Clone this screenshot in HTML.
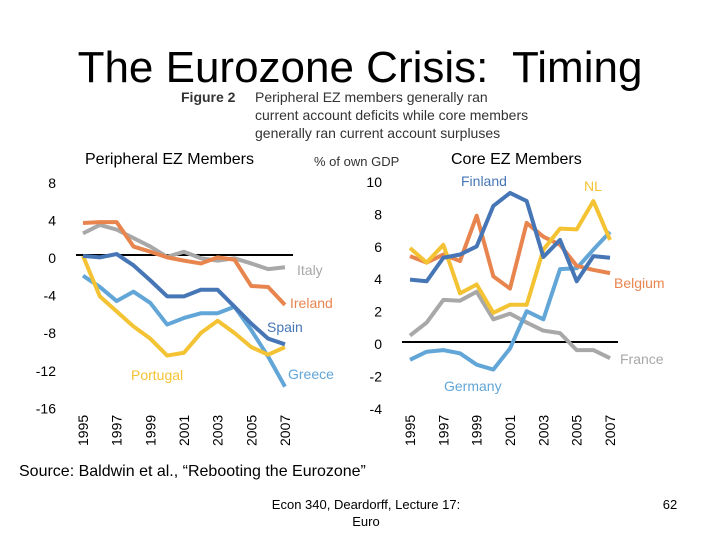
<!DOCTYPE html>
<html><head><meta charset="utf-8"><style>
body{margin:0;width:720px;height:540px;background:#fff;overflow:hidden;font-family:"Liberation Sans",sans-serif;}
svg{position:absolute;left:0;top:0}
</style></head><body>
<svg width="720" height="540" id="s" font-family="Liberation Sans, sans-serif">
<text x="360" y="82" font-size="44" text-anchor="middle" fill="#000" style="white-space:pre">The Eurozone Crisis:  Timing</text>
<g font-size="14" fill="#333">
<text x="181" y="102" font-weight="bold">Figure 2</text>
<text x="255" y="102">Peripheral EZ members generally ran</text>
<text x="255" y="120">current account deficits while core members</text>
<text x="255" y="138">generally ran current account surpluses</text>
</g>
<text x="85" y="164" font-size="16">Peripheral EZ Members</text>
<text x="314" y="166" font-size="13" fill="#333">% of own GDP</text>
<text x="451" y="164" font-size="16">Core EZ Members</text>
<g id="left"></g>
<g id="right"></g>
<text x="19" y="476" font-size="16">Source:  Baldwin et al., “Rebooting the Eurozone”</text>
<text x="366" y="509" font-size="13" text-anchor="middle">Econ 340, Deardorff, Lecture 17:</text>
<text x="366" y="526" font-size="13" text-anchor="middle">Euro</text>
<text x="670" y="509" font-size="13" text-anchor="middle">62</text>
</svg>
<script>
const years=[1995,1996,1997,1998,1999,2000,2001,2002,2003,2004,2005,2006,2007];
const yearTicks=[1995,1997,1999,2001,2003,2005,2007];
const leftTicks=[8,4,0,-4,-8,-12,-16];
const rightTicks=[10,8,6,4,2,0,-2,-4];
const ireland=[3.4,3.5,3.5,0.9,0.35,-0.25,-0.6,-0.9,-0.25,-0.5,-3.3,-3.4,-5.3];
const italy=[2.3,3.2,2.7,1.8,0.9,-0.2,0.35,-0.35,-0.6,-0.35,-0.9,-1.5,-1.3];
const spain=[-0.1,-0.25,0.1,-1.1,-2.7,-4.4,-4.4,-3.7,-3.7,-5.5,-7.3,-8.9,-9.5];
const greece=[-2.2,-3.4,-4.9,-3.9,-5.1,-7.4,-6.7,-6.2,-6.2,-5.5,-8,-10.8,-14];
const portugal=[-0.1,-4.4,-6,-7.6,-8.9,-10.7,-10.4,-8.3,-7,-8.3,-9.8,-10.6,-9.8];
const finland=[3.85,3.75,5.2,5.4,5.9,8.4,9.2,8.7,5.25,6.3,3.75,5.3,5.2];
const belgium=[5.3,4.9,5.4,5.0,7.8,4.05,3.3,7.35,6.5,6.0,4.7,4.45,4.25];
const nl=[5.8,4.9,6.0,3.0,3.55,1.8,2.3,2.3,5.7,7.0,6.95,8.7,6.3];
const germany=[-1.1,-0.6,-0.5,-0.7,-1.4,-1.7,-0.4,1.9,1.4,4.5,4.55,5.7,6.8];
const france=[0.4,1.2,2.6,2.55,3.1,1.4,1.75,1.2,0.7,0.55,-0.5,-0.5,-1.0];
const NS='http://www.w3.org/2000/svg';
function mk(p,t,a){const e=document.createElementNS(NS,t);for(const k in a)e.setAttribute(k,a[k]);p.appendChild(e);return e;}
function chart(g,cfg){
  const X=y=>cfg.x0+(y-1995)*cfg.dx, Y=v=>cfg.y0-v*cfg.dy;
  cfg.ticks.forEach(t=>{const e=mk(g,'text',{x:cfg.tx,y:Y(t)+5+cfg.toff,'font-size':14,'text-anchor':'end'});e.textContent=t;
    
    });
  yearTicks.forEach(yr=>{const e=mk(g,'text',{x:0,y:0,'font-size':14,'text-anchor':'start',transform:`translate(${X(yr)+5},446) rotate(-90)`});e.textContent=yr;
    
    });
  const z=mk(g,'line',{x1:cfg.zx1,x2:cfg.zx2,y1:Y(0),y2:Y(0),stroke:'#000','stroke-width':2});
  
  
  cfg.series.forEach(s=>{
    const p=mk(g,'polyline',{points:s.d.map((v,i)=>X(years[i])+','+Y(v)).join(' '),fill:'none',stroke:s.c,'stroke-width':4,'stroke-linejoin':'round'});
    
    
    const t=mk(g,'text',{x:s.lx,y:s.ly,'font-size':14,fill:s.c});t.textContent=s.n;
    
    
  });
}
chart(document.getElementById('left'),{x0:83,dx:16.83,y0:255,dy:9.4,ticks:leftTicks,tx:56,toff:3,zx1:76,zx2:293,series:[
 {n:'Italy',d:italy,c:'#a8a8a8',lx:297,ly:275},
 {n:'Ireland',d:ireland,c:'#e8854e',lx:290,ly:308},
 {n:'Greece',d:greece,c:'#62a6d8',lx:288,ly:379},
 {n:'Portugal',d:portugal,c:'#f4c334',lx:131,ly:380},
 {n:'Spain',d:spain,c:'#4676b6',lx:267,ly:332}]});
chart(document.getElementById('right'),{x0:410,dx:16.67,y0:342,dy:16.2,ticks:rightTicks,tx:382,toff:2,zx1:402,zx2:618,series:[
 {n:'France',d:france,c:'#a8a8a8',lx:620,ly:364},
 {n:'Germany',d:germany,c:'#62a6d8',lx:444,ly:391},
 {n:'Belgium',d:belgium,c:'#e8854e',lx:614,ly:288},
 {n:'NL',d:nl,c:'#f4c334',lx:584,ly:191},
 {n:'Finland',d:finland,c:'#4676b6',lx:461,ly:186}]});
</script>
</body></html>
